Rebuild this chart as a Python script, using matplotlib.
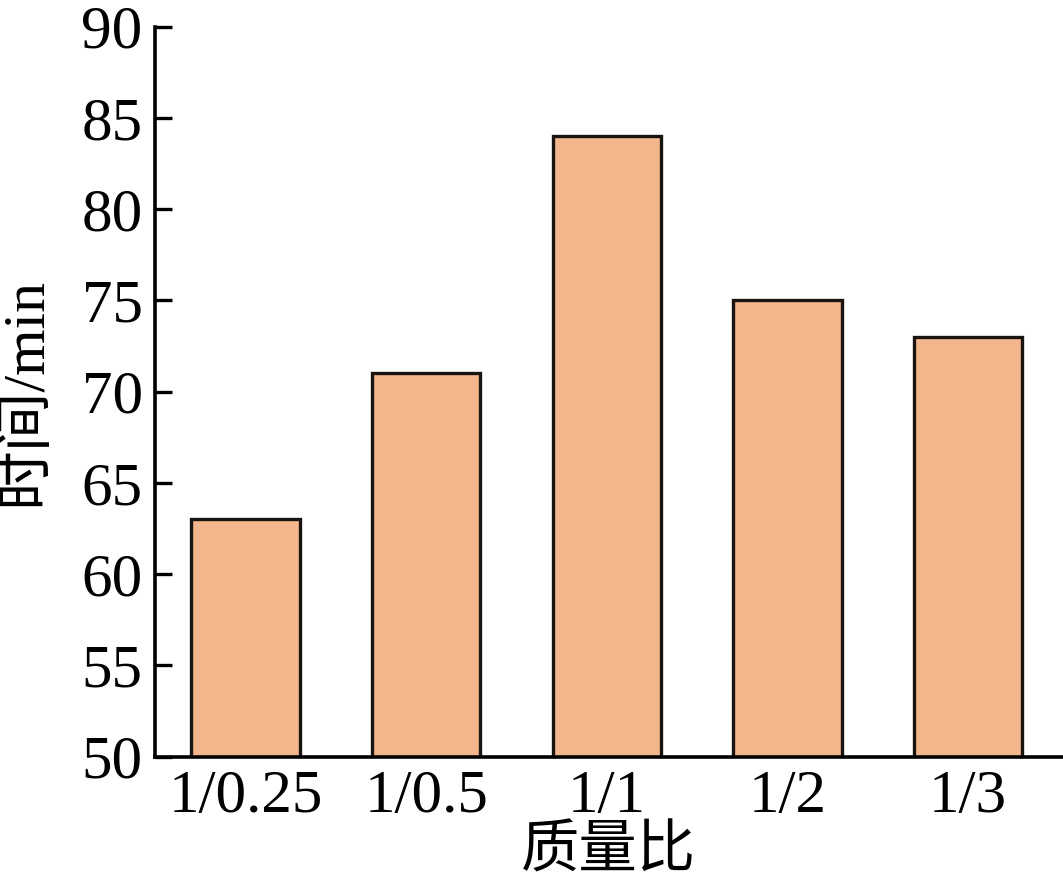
import matplotlib
matplotlib.use('Agg')
import matplotlib.pyplot as plt

# data
ratios = ['1/0.25', '1/0.5', '1/1', '1/2', '1/3']
times = [63, 71, 84, 75, 73]
yticks = [50, 55, 60, 65, 70, 75, 80, 85, 90]

plt.rcParams['font.family'] = ['Liberation Serif', 'Noto Sans CJK SC']

fig = plt.figure(figsize=(10.63, 8.86), dpi=100)
ax = fig.add_axes([0.146, 0.146, 0.853, 0.824])

x = range(len(ratios))
ax.bar(x, times, width=0.6, color='#F4B68C', edgecolor='#1a1410', linewidth=2.4, zorder=2)

ax.set_xlim(-0.5, 4.52)
ax.set_ylim(50, 90)
ax.set_yticks(yticks)
ax.set_xticks(list(x))
ax.set_xticklabels(ratios)

for s in ['top', 'right']:
    ax.spines[s].set_visible(False)
for s in ['left', 'bottom']:
    ax.spines[s].set_linewidth(2.6)
    ax.spines[s].set_zorder(3)

ax.tick_params(direction='in', length=12, width=2.4, labelsize=44, pad=9)
ax.tick_params(axis='x', pad=9)

ax.set_xlabel('质量比', fontsize=42, labelpad=1)
ax.set_ylabel('时间/min', fontsize=43)
ax.yaxis.set_label_coords(-0.112, 0.5)

fig.savefig('out.png', dpi=100)
